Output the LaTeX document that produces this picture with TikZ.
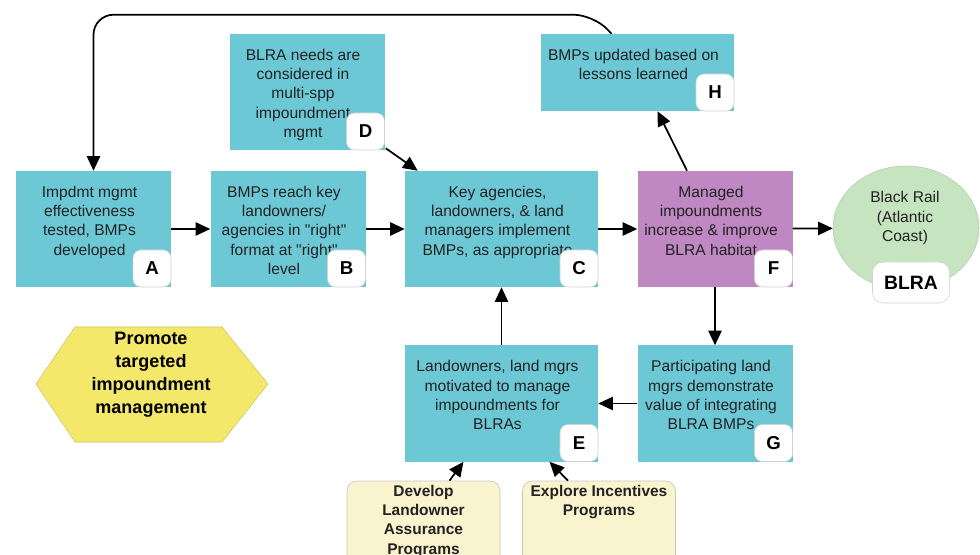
\documentclass[tikz,border=0pt]{standalone}
\usepackage{fontspec}
\setmainfont{Liberation Sans}
\usetikzlibrary{arrows.meta,calc,shapes.geometric}

\definecolor{boxcyan}{HTML}{6DC8D6}
\definecolor{boxpurple}{HTML}{C088C2}
\definecolor{railgreen}{HTML}{C6E4BF}
\definecolor{hexyellow}{HTML}{F4E86A}
\definecolor{notecream}{HTML}{FAF4CE}
\definecolor{inkgray}{HTML}{222222}

\tikzset{
  stepbox/.style={rectangle, fill=boxcyan, minimum width=116.25pt, minimum height=87pt, inner sep=0pt},
  widebox/.style={stepbox, minimum width=144.75pt},
  boxtext/.style={anchor=north, align=center, inner sep=0pt, text=inkgray,
    font=\fontsize{11.7}{14.5}\selectfont},
  badge/.style={rectangle, rounded corners=6pt, fill=white, draw=black!18, line width=0.4pt,
    minimum width=28.5pt, minimum height=27.75pt, inner sep=0pt, anchor=south east,
    font=\fontsize{14}{14}\selectfont\bfseries, text=black},
  notebox/.style={rectangle, rounded corners=7.5pt, fill=notecream, draw=black!22, line width=0.5pt,
    minimum width=114.75pt, minimum height=89.25pt, inner sep=0pt},
  notetext/.style={anchor=north, align=center, inner sep=0pt, text=inkgray,
    font=\fontsize{11.6}{14.5}\selectfont\bfseries},
  arr/.style={draw=black, line width=1.3pt, -{Triangle[length=11pt,width=10pt]}},
}

\begin{document}
\begin{tikzpicture}[x=0.75pt,y=-0.75pt]
\useasboundingbox (0,0) rectangle (980,555);
\clip (0,0) rectangle (980,555);

% main chain of steps
\node[stepbox] (A) at (93.5,229) {};
\node[boxtext] (At) at ($(A.north)+(-4,15)$) {Impdmt mgmt\\effectiveness\\tested, BMPs\\developed};
\node[badge] (Ab) at (A.south east) {A};

\node[stepbox] (B) at (288,229) {};
\node[boxtext] (Bt) at ($(B.north)+(-4,15)$) {BMPs reach key\\landowners/\\agencies in \textquotedbl right\textquotedbl\\format at \textquotedbl right\textquotedbl\\level};
\node[badge] (Bb) at (B.south east) {B};

\node[widebox] (C) at (501.5,229) {};
\node[boxtext] (Ct) at ($(C.north)+(-4,15)$) {Key agencies,\\landowners, \& land\\managers implement\\BMPs, as appropriate};
\node[badge] (Cb) at (C.south east) {C};

\node[stepbox, fill=boxpurple] (F) at (715,229) {};
\node[boxtext] (Ft) at ($(F.north)+(-4,15)$) {Managed\\impoundments\\increase \& improve\\BLRA habitat};
\node[badge] (Fb) at (F.south east) {F};

\node[stepbox] (D) at (307,92) {};
\node[boxtext] (Dt) at ($(D.north)+(-4,15)$) {BLRA needs are\\considered in\\multi-spp\\impoundment\\mgmt};
\node[badge] (Db) at (D.south east) {D};

\node[widebox, minimum height=57.75pt] (H) at (637.5,72.5) {};
\node[boxtext] (Ht) at ($(H.north)+(-4,15)$) {BMPs updated based on\\lessons learned};
\node[badge] (Hb) at (H.south east) {H};

\node[widebox] (E) at (501.5,403.5) {};
\node[boxtext] (Et) at ($(E.north)+(-4,15)$) {Landowners, land mgrs\\motivated to manage\\impoundments for\\BLRAs};
\node[badge] (Eb) at (E.south east) {E};

\node[stepbox] (G) at (715,403.5) {};
\node[boxtext] (Gt) at ($(G.north)+(-4,15)$) {Participating land\\mgrs demonstrate\\value of integrating\\BLRA BMPs};
\node[badge] (Gb) at (G.south east) {G};

% target species
\node[ellipse, fill=railgreen, draw=railgreen!90!black, line width=0.4pt,
      minimum width=109.5pt, minimum height=93pt, inner sep=0pt] (rail) at (906,228) {};
\node[align=center, inner sep=0pt, text=inkgray, font=\fontsize{11.7}{14.5}\selectfont]
      (railt) at (905,218) {Black Rail\\(Atlantic\\Coast)};
\node[rectangle, rounded corners=8pt, fill=white, draw=black!18, line width=0.4pt,
      minimum width=57.75pt, minimum height=30.75pt, inner sep=0pt,
      font=\fontsize{14.5}{14.5}\selectfont\bfseries] (blra) at (911,282.5) {BLRA};

% strategy hexagon
\filldraw[fill=hexyellow, draw=hexyellow!85!black, line width=0.4pt]
  (36,384) -- (75,327) -- (222,327) -- (268,384) -- (222,442) -- (75,442) -- cycle;
\node[align=center, inner sep=0pt, text=black, font=\fontsize{13.5}{17.3}\selectfont\bfseries]
  (goal) at (151,375) {Promote\\targeted\\impoundment\\management};

% supporting actions
\node[notebox] (dev) at (423.5,540.5) {};
\node[notetext] (devt) at ($(dev.north)+(0,4)$) {Develop\\Landowner\\Assurance\\Programs};
\node[notebox] (inc) at (599,540.5) {};
\node[notetext] (inct) at ($(inc.north)+(0,4)$) {Explore Incentives\\Programs};

% connectors
\draw[arr] (A) -- (B);
\draw[arr] (B) -- (C);
\draw[arr] (C) -- (F);
\draw[arr] (F) -- (rail);
\draw[arr] (E) -- (C);
\draw[arr] (F) -- (G);
\draw[arr] (G) -- (E);
\draw[arr] ($(F.north)+(-28,0)$) -- ($(H.south)+(20,0)$);
\draw[arr] ($(D.south east)+(1,-2)$) -- ($(C.north west)+(13,0)$);
\draw[arr] ($(dev.north)+(26,0)$) -- ($(E.south)+(-38,0)$);
\draw[arr] ($(inc.north)+(-31,0)$) -- ($(E.south)+(48,0)$);
\draw[arr, rounded corners=15] ($(H.north)+(-26,0)$) -- ($(H.north)+(-44,-19)$) -| (A.north);
\end{tikzpicture}
\end{document}
